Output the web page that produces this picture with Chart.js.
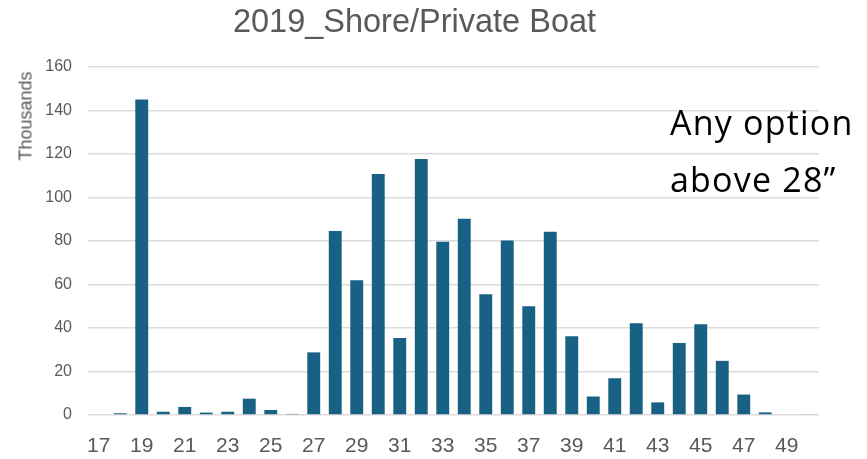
<!DOCTYPE html>
<html>
<head>
<meta charset="utf-8">
<script src="https://cdn.jsdelivr.net/npm/chart.js@4/dist/chart.umd.min.js"></script>
<style>
  html, body { margin: 0; padding: 0; background: #ffffff; }
  #wrap { position: relative; width: 867px; height: 459px; }
  #note { position: absolute; left: 670px; top: 94px; font-family: "Open Sans", "Liberation Sans", sans-serif;
          font-size: 34px; line-height: 57px; color: #000; white-space: nowrap; letter-spacing: 1.2px; }
  #ytitle { position: absolute; left: 26px; top: 116px; transform: translate(-50%, -50%) rotate(-90deg);
            font-family: "Liberation Sans", sans-serif; font-size: 18px; color: #595959; white-space: nowrap; }
</style>
</head>
<body>
<div id="wrap">
  <canvas id="c" width="867" height="459"></canvas>
  <div id="ytitle">Thousands</div>
  <div id="note">Any option<br>above 28”</div>
</div>
<script>
const categories = ["17","18","19","20","21","22","23","24","25","26","27","28","29","30","31","32","33",
                    "34","35","36","37","38","39","40","41","42","43","44","45","46","47","48","49","50"];
const values = [0, 0.8, 145.1, 1.5, 3.7, 1.1, 1.5, 7.5, 2.3, 0.5, 28.8, 84.6, 62, 110.8, 35.4, 117.7, 79.7,
                90.2, 55.5, 80.2, 50, 84.2, 36.2, 8.5, 16.9, 42.2, 5.8, 33.1, 41.7, 24.9, 9.4, 1.2, 0, 0.3];
const yTicks = [0, 20, 40, 60, 80, 100, 120, 140, 160];
const titleText = "2019_Shore/Private Boat";

new Chart(document.getElementById('c'), {
  type: 'bar',
  data: {
    labels: categories,
    datasets: [{
      data: values,
      backgroundColor: '#186184',
      borderWidth: 0,
      barPercentage: 0.6,
      categoryPercentage: 1.0
    }]
  },
  options: {
    responsive: false,
    animation: false,
    layout: { padding: { top: 4, right: 48, left: 10, bottom: 0 } },
    plugins: {
      legend: { display: false },
      tooltip: { enabled: false },
      title: {
        display: true,
        text: titleText,
        color: '#595959',
        font: { family: "'Liberation Sans', sans-serif", size: 32.5, weight: 'normal', lineHeight: 1.2 },
        padding: { top: 0, bottom: 24 }
      }
    },
    scales: {
      x: {
        grid: { display: false, drawTicks: false },
        border: { display: false },
        ticks: {
          color: '#595959',
          font: { family: "'Liberation Sans', sans-serif", size: 21 },
          maxRotation: 0,
          autoSkip: false,
          padding: 19,
          callback: function(v, i) { return (i % 2 === 0) ? categories[i] : ''; }
        },
        afterFit: function(s) { s.height = 44; }
      },
      y: {
        min: 0, max: 160,
        afterBuildTicks: function(s) { s.ticks = yTicks.map(v => ({ value: v })); },
        grid: { color: '#dcdcdc', lineWidth: 1.5, drawTicks: false },
        border: { display: false },
        ticks: {
          color: '#595959',
          font: { family: "'Liberation Sans', sans-serif", size: 16 },
          padding: 16
        },
        afterFit: function(s) { s.width = 78; }
      }
    }
  }
});
</script>
</body>
</html>
